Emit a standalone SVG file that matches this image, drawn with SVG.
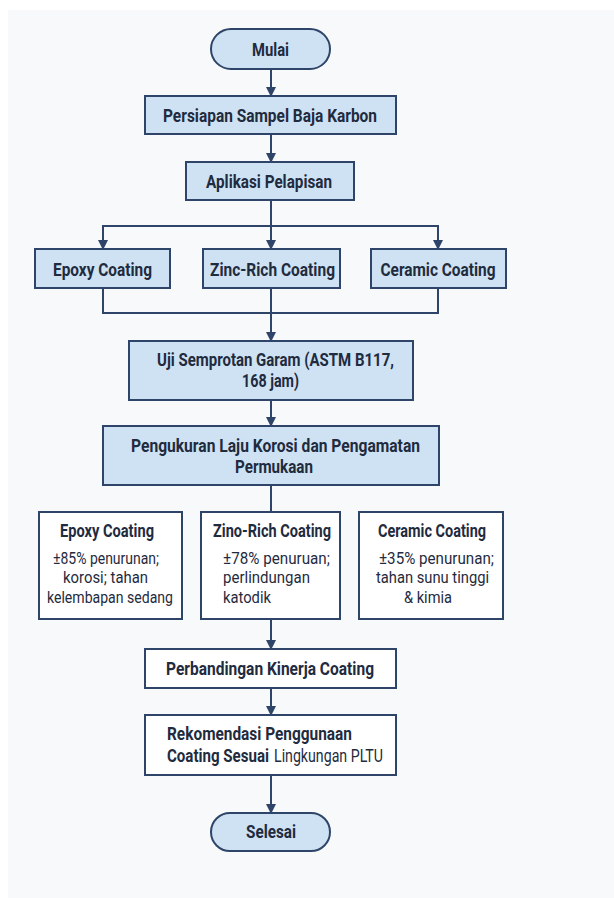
<svg xmlns="http://www.w3.org/2000/svg" width="614" height="898" viewBox="0 0 614 898">
  <defs>
    <marker id="arr" viewBox="0 0 10 10" refX="9" refY="5" markerWidth="5" markerHeight="5" markerUnits="strokeWidth" orient="auto">
      <path d="M0,0 L10,5 L0,10 z" fill="#2e4468"/>
    </marker>
    <style>
      .box { fill: #cfe2f3; stroke: #2e4468; stroke-width: 2; }
      .wbox { fill: #ffffff; stroke: #2e4468; stroke-width: 2; }
      .t { font-family: Roboto, "Liberation Sans", sans-serif; font-weight: bold; font-size: 17.5px; fill: #1f2b3e; }
      .b { font-family: Roboto, "Liberation Sans", sans-serif; font-weight: normal; font-size: 16.5px; fill: #1f2b3e; }
      .c { fill: none; stroke: #2e4468; stroke-width: 2; }
    </style>
  </defs>
  <rect x="0" y="0" width="614" height="898" fill="#ffffff"/>
  <rect x="8" y="10" width="606" height="888" fill="#f8f9fa"/>

  <g id="connectors">
    <line class="c" x1="271" y1="69" x2="271" y2="96" marker-end="url(#arr)"/>
    <line class="c" x1="271" y1="134" x2="271" y2="162" marker-end="url(#arr)"/>
    <polyline class="c" points="271,200 271,226"/>
    <polyline class="c" points="103,226 438,226"/>
    <line class="c" x1="103" y1="225" x2="103" y2="249" marker-end="url(#arr)"/>
    <line class="c" x1="271" y1="226" x2="271" y2="249" marker-end="url(#arr)"/>
    <line class="c" x1="438" y1="225" x2="438" y2="249" marker-end="url(#arr)"/>
    <polyline class="c" points="103,288 103,313 438,313 438,288"/>
    <line class="c" x1="271" y1="288" x2="271" y2="341" marker-end="url(#arr)"/>
    <line class="c" x1="271" y1="400" x2="271" y2="426" marker-end="url(#arr)"/>
    <line class="c" x1="271" y1="485" x2="271" y2="511"/>
    <line class="c" x1="271" y1="619" x2="271" y2="649" marker-end="url(#arr)"/>
    <line class="c" x1="271" y1="688" x2="271" y2="715" marker-end="url(#arr)"/>
    <line class="c" x1="271" y1="775" x2="271" y2="813" marker-end="url(#arr)"/>
  </g>

  <g id="mulai">
    <rect class="box" x="211" y="29" width="119" height="40" rx="20" ry="20"/>
    <text class="t" x="270.5" y="56" text-anchor="middle" textLength="37" lengthAdjust="spacingAndGlyphs">Mulai</text>
  </g>
  <g id="persiapan">
    <rect class="box" x="145" y="96" width="251" height="38"/>
    <text class="t" x="270" y="122" text-anchor="middle" textLength="214" lengthAdjust="spacingAndGlyphs">Persiapan Sampel Baja Karbon</text>
  </g>
  <g id="aplikasi">
    <rect class="box" x="186" y="162" width="168" height="38"/>
    <text class="t" x="269" y="188" text-anchor="middle" textLength="126" lengthAdjust="spacingAndGlyphs">Aplikasi Pelapisan</text>
  </g>
  <g id="epoxy">
    <rect class="box" x="35" y="249" width="135" height="39"/>
    <text class="t" x="102.5" y="276" text-anchor="middle" textLength="99" lengthAdjust="spacingAndGlyphs">Epoxy Coating</text>
  </g>
  <g id="zinc">
    <rect class="box" x="203" y="249" width="137" height="39"/>
    <text class="t" x="272.5" y="276" text-anchor="middle" textLength="125" lengthAdjust="spacingAndGlyphs">Zinc-Rich Coating</text>
  </g>
  <g id="ceramic">
    <rect class="box" x="371" y="249" width="135" height="39"/>
    <text class="t" x="438" y="276" text-anchor="middle" textLength="115" lengthAdjust="spacingAndGlyphs">Ceramic Coating</text>
  </g>
  <g id="uji">
    <rect class="box" x="129" y="341" width="284" height="59"/>
    <text class="t" x="275.5" y="366" text-anchor="middle" textLength="237" lengthAdjust="spacingAndGlyphs">Uji Semprotan Garam (ASTM B117,</text>
    <text class="t" x="270.5" y="387" text-anchor="middle" textLength="57" lengthAdjust="spacingAndGlyphs">168 jam)</text>
  </g>
  <g id="pengukuran">
    <rect class="box" x="103" y="426" width="336" height="59"/>
    <text class="t" x="275.5" y="452" text-anchor="middle" textLength="289" lengthAdjust="spacingAndGlyphs">Pengukuran Laju Korosi dan Pengamatan</text>
    <text class="t" x="274" y="473" text-anchor="middle" textLength="78" lengthAdjust="spacingAndGlyphs">Permukaan</text>
  </g>

  <g id="hasil-epoxy">
    <rect class="wbox" x="39" y="512" width="143" height="107"/>
    <text class="t" x="107" y="537" text-anchor="middle" textLength="94" lengthAdjust="spacingAndGlyphs">Epoxy Coating</text>
    <text class="b" x="106" y="564" text-anchor="middle" textLength="106" lengthAdjust="spacingAndGlyphs">±85% penurunan;</text>
    <text class="b" x="105.5" y="583" text-anchor="middle" textLength="85" lengthAdjust="spacingAndGlyphs">korosi; tahan</text>
    <text class="b" x="110" y="603" text-anchor="middle" textLength="126" lengthAdjust="spacingAndGlyphs">kelembapan sedang</text>
  </g>
  <g id="hasil-zinc">
    <rect class="wbox" x="201" y="512" width="139" height="107"/>
    <text class="t" x="272" y="537" text-anchor="middle" textLength="118" lengthAdjust="spacingAndGlyphs">Zino-Rich Coating</text>
    <text class="b" x="223" y="564" textLength="107" lengthAdjust="spacingAndGlyphs">±78% penuruan;</text>
    <text class="b" x="223" y="583" textLength="87" lengthAdjust="spacingAndGlyphs">perlindungan</text>
    <text class="b" x="223" y="603" textLength="48" lengthAdjust="spacingAndGlyphs">katodik</text>
  </g>
  <g id="hasil-ceramic">
    <rect class="wbox" x="359" y="512" width="144" height="107"/>
    <text class="t" x="432" y="537" text-anchor="middle" textLength="108" lengthAdjust="spacingAndGlyphs">Ceramic Coating</text>
    <text class="b" x="436.5" y="564" text-anchor="middle" textLength="115" lengthAdjust="spacingAndGlyphs">±35% penurunan;</text>
    <text class="b" x="432.5" y="583" text-anchor="middle" textLength="113" lengthAdjust="spacingAndGlyphs">tahan sunu tinggi</text>
    <text class="b" x="428" y="603" text-anchor="middle" textLength="48" lengthAdjust="spacingAndGlyphs">&amp; kimia</text>
  </g>

  <g id="perbandingan">
    <rect class="wbox" x="145" y="649" width="251" height="39"/>
    <text class="t" x="270" y="675" text-anchor="middle" textLength="208" lengthAdjust="spacingAndGlyphs">Perbandingan Kinerja Coating</text>
  </g>
  <g id="rekomendasi">
    <rect class="wbox" x="145" y="715" width="251" height="60"/>
    <text class="t" x="167" y="740" textLength="185" lengthAdjust="spacingAndGlyphs">Rekomendasi Penggunaan</text>
    <text class="t" x="167" y="762"><tspan textLength="102" lengthAdjust="spacingAndGlyphs">Coating Sesuai</tspan><tspan x="274" font-weight="normal" textLength="109" lengthAdjust="spacingAndGlyphs">Lingkungan PLTU</tspan></text>
  </g>
  <g id="selesai">
    <rect class="box" x="211" y="813" width="119" height="38" rx="19" ry="19"/>
    <text class="t" x="271" y="838" text-anchor="middle" textLength="50" lengthAdjust="spacingAndGlyphs">Selesai</text>
  </g>
</svg>
